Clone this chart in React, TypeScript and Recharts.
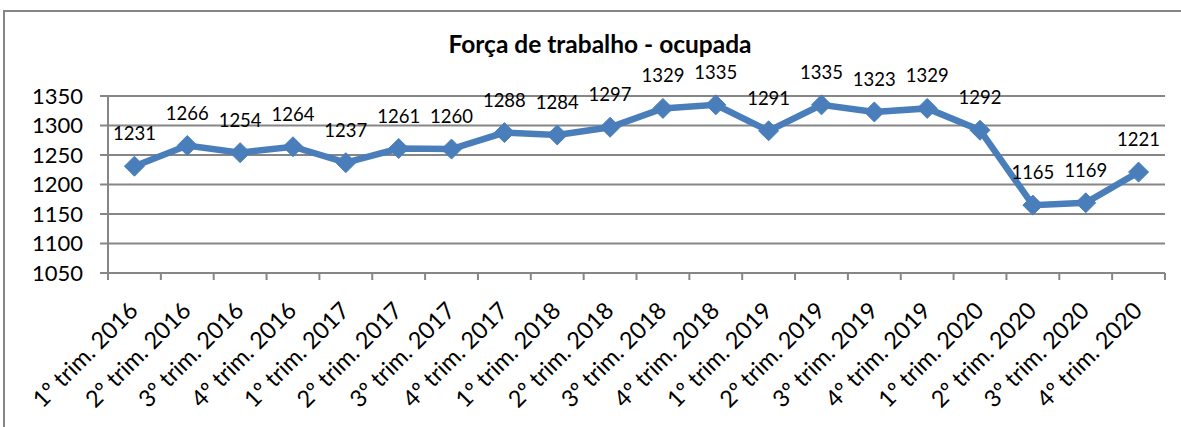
import React from "react";
import { LineChart, Line, XAxis, YAxis, CartesianGrid, LabelList } from "recharts";

const categories = [
  "1º trim. 2016", "2º trim. 2016", "3º trim. 2016", "4º trim. 2016",
  "1º trim. 2017", "2º trim. 2017", "3º trim. 2017", "4º trim. 2017",
  "1º trim. 2018", "2º trim. 2018", "3º trim. 2018", "4º trim. 2018",
  "1º trim. 2019", "2º trim. 2019", "3º trim. 2019", "4º trim. 2019",
  "1º trim. 2020", "2º trim. 2020", "3º trim. 2020", "4º trim. 2020",
];
const ocupada = [
  1231, 1266, 1254, 1264, 1237, 1261, 1260, 1288, 1284, 1297,
  1329, 1335, 1291, 1335, 1323, 1329, 1292, 1165, 1169, 1221,
];
const yTicks = [1050, 1100, 1150, 1200, 1250, 1300, 1350];
const title = "Força de trabalho - ocupada";

const data = categories.map((c, i) => ({ name: c, value: ocupada[i] }));

const W = 1181;
const H = 427;
const MARGIN = { top: 96, right: 16, bottom: 0, left: 0 };
const Y_AXIS_W = 108;
const X_AXIS_H = 154;
const PLOT_W = W - MARGIN.left - MARGIN.right - Y_AXIS_W;
const BAND = PLOT_W / categories.length;
const PLOT_BOTTOM = H - X_AXIS_H;
const GRAY = "#868686";
const BLUE = "#4A7EBB";
const FONT = "Lato, 'Open Sans', sans-serif";

const XTick = (props: any) => {
  const { x, payload, index } = props;
  const lx = x + 5;
  const ly = PLOT_BOTTOM + 39;
  return (
    <g>
      <line x1={x - BAND / 2} y1={PLOT_BOTTOM} x2={x - BAND / 2} y2={PLOT_BOTTOM + 7} stroke={GRAY} strokeWidth={2} />
      {index === categories.length - 1 && (
        <line x1={x + BAND / 2} y1={PLOT_BOTTOM} x2={x + BAND / 2} y2={PLOT_BOTTOM + 7} stroke={GRAY} strokeWidth={2} />
      )}
      <text
        x={lx}
        y={ly}
        transform={`rotate(-45, ${lx}, ${ly})`}
        textAnchor="end"
        fontSize={23.5}
        fontFamily={FONT}
        fill="#000"
      >
        {payload.value}
      </text>
    </g>
  );
};

const Diamond = (props: any) => {
  const { cx, cy } = props;
  if (cx == null || cy == null) return null;
  const r = 10;
  return (
    <polygon
      points={`${cx},${cy - r} ${cx + r},${cy} ${cx},${cy + r} ${cx - r},${cy}`}
      fill={BLUE}
      stroke={BLUE}
      strokeWidth={1}
    />
  );
};

const ValueLabel = (props: any) => {
  const { x, y, value } = props;
  return (
    <text x={x} y={y - 26} textAnchor="middle" fontSize={18.5} fontFamily={FONT} fill="#000">
      {value}
    </text>
  );
};

export default function App() {
  return (
    <div style={{ position: "absolute", left: 0, top: 0, width: W, height: H, background: "#fff", overflow: "hidden" }}>
      <div
        style={{
          position: "absolute",
          left: 3,
          top: 10,
          width: 1300,
          height: 600,
          border: `2px solid ${GRAY}`,
          boxSizing: "border-box",
        }}
      />
      <div
        style={{
          position: "absolute",
          left: 0,
          width: 1200,
          top: 30,
          textAlign: "center",
          fontFamily: FONT,
          fontWeight: 700,
          fontSize: 24.5,
          lineHeight: "28px",
          color: "#000",
        }}
      >
        {title}
      </div>
      <div style={{ position: "absolute", left: 0, top: 0 }}>
        <LineChart width={W} height={H} data={data} margin={MARGIN}>
          <CartesianGrid horizontal vertical={false} stroke={GRAY} strokeWidth={2} />
          <XAxis
            dataKey="name"
            interval={0}
            height={X_AXIS_H}
            padding={{ left: BAND / 2, right: BAND / 2 }}
            axisLine={{ stroke: GRAY, strokeWidth: 2 }}
            tickLine={false}
            tick={<XTick />}
          />
          <YAxis
            width={Y_AXIS_W}
            domain={[1050, 1350]}
            ticks={yTicks}
            interval={0}
            tickSize={8}
            tickMargin={17}
            axisLine={{ stroke: GRAY, strokeWidth: 2 }}
            tickLine={{ stroke: GRAY, strokeWidth: 2 }}
            tick={{ fill: "#000", fontSize: 22, fontFamily: FONT }}
          />
          <Line
            type="linear"
            dataKey="value"
            stroke={BLUE}
            strokeWidth={6.5}
            dot={<Diamond />}
            activeDot={false}
            isAnimationActive={false}
          >
            <LabelList dataKey="value" content={<ValueLabel />} />
          </Line>
        </LineChart>
      </div>
    </div>
  );
}
